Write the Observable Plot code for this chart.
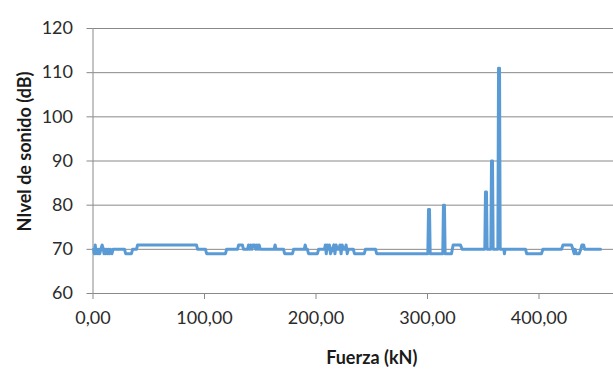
<!DOCTYPE html>
<html>
<head>
<meta charset="utf-8">
<script src="https://cdn.jsdelivr.net/npm/d3@7"></script>
<script src="https://cdn.jsdelivr.net/npm/@observablehq/plot@0.6"></script>
<style>
  html, body { margin: 0; padding: 0; background: #fff; }
  #chart { width: 613px; height: 372px; overflow: hidden; }
</style>
</head>
<body>
<div id="chart"></div>
<script>
// Fuerza (kN)
const fuerza = [0.5, 1.2, 2, 2.8, 3.6, 4.5, 5.3, 6.1, 7, 8.2, 9.2, 9.9, 10.7, 11.5, 12.4, 13.3, 14.2, 15, 16, 17, 18,
  28.3, 29.3, 34.5, 35.5, 39, 40, 92.8, 93.8, 100.9, 101.9, 118.8, 119.8, 129.6, 130.6, 134, 135, 138.6,
  139.5, 140.5, 141.5, 142.5, 143.5, 145, 146, 147, 148, 149, 150, 162.5, 163.3, 164.2, 170.9, 171.9,
  178.9, 179.9, 189.5, 190.3, 191.2, 192.3, 193.3, 201.3, 202.3, 207.6, 208.4, 209.2, 210, 211, 212, 213,
  214.5, 216, 217, 218, 219, 220.5, 221.5, 222.5, 223.5, 224.5, 226, 227, 228, 229, 233.5, 234.5, 243.3,
  244.3, 253.4, 254.4, 300.3, 300.9, 301.8, 302.4, 313.7, 314.3, 315.2, 315.8, 321.5, 323, 329.6, 331,
  351.4, 352, 352.9, 353.5, 356.8, 357.4, 358.3, 358.9, 363.1, 363.7, 364.6, 365.2, 368.5, 369, 369.5,
  387.9, 389, 402.2, 403.5, 420.2, 421.5, 429.1, 430.5, 431.5, 432.5, 433.5, 436, 437.5, 438.5, 440, 441, 455.2];
// Nivel de sonido (dB)
const nivel = [70, 69, 71, 69, 70, 69, 70, 69, 70, 71, 70, 69, 70, 69, 70, 69, 70, 69, 70, 69, 70,
  70, 69, 69, 70, 70, 71, 71, 70, 70, 69, 69, 70, 70, 71, 71, 70, 70,
  71, 70, 71, 70, 71, 71, 70, 71, 70, 71, 70, 70, 71, 70, 70, 69,
  69, 70, 70, 71, 70, 70, 69, 69, 70, 70, 71, 69, 71, 70, 71, 69,
  70, 71, 69, 71, 70, 70, 71, 69, 71, 70, 70, 71, 69, 70, 70, 69, 69,
  70, 70, 69, 69, 79, 79, 69, 69, 80, 80, 69, 69, 71, 71, 70,
  70, 83, 83, 70, 70, 90, 90, 70, 70, 111, 111, 70, 70, 69, 70,
  70, 69, 69, 70, 70, 71, 71, 70, 69, 70, 69, 69, 70, 71, 71, 70, 70];

const xTicks = [0, 100, 200, 300, 400];
const yTicks = [60, 70, 80, 90, 100, 110, 120];
const xTitle = "Fuerza (kN)";
const yTitle = "NIvel de sonido (dB)";

const data = fuerza.map((f, i) => ({f, n: nivel[i]}));
const fmtX = d => d.toFixed(2).replace(".", ",");
const grid = "#898989";

const chart = Plot.plot({
  width: 613,
  height: 372,
  marginLeft: 92.5,
  marginRight: -37,
  marginTop: 28,
  marginBottom: 79,
  style: {fontFamily: "Lato, 'Liberation Sans', Arial, sans-serif", fontSize: "18px", color: "#333", background: "#fff", overflow: "hidden"},
  x: {domain: [0, 500]},
  y: {domain: [60, 120]},
  marks: [
    Plot.ruleY(yTicks, {stroke: grid, strokeWidth: 1}),
    Plot.ruleX([0], {stroke: grid, strokeWidth: 1}),
    Plot.axisY({ticks: yTicks, tickSize: 6, tickPadding: 14, stroke: grid, fill: "#2b2b2b", label: null}),
    Plot.axisX({ticks: xTicks, tickSize: 6, tickPadding: 12, stroke: grid, fill: "#2b2b2b", tickFormat: fmtX, label: null}),
    Plot.line(data, {x: "f", y: "n", stroke: "#5B9BD5", strokeWidth: 3, strokeLinejoin: "round"}),
    Plot.text([xTitle], {frameAnchor: "bottom", dy: 65, lineAnchor: "middle", textAnchor: "middle", fontWeight: "bold", fill: "#1a1a1a", fontSize: 18}),
    Plot.text([yTitle], {frameAnchor: "left", rotate: -90, dx: -67.5, dy: -9.5, lineAnchor: "middle", textAnchor: "middle", fontWeight: "bold", fill: "#1a1a1a", fontSize: 18})
  ]
});
document.getElementById("chart").appendChild(chart);
</script>
</body>
</html>
